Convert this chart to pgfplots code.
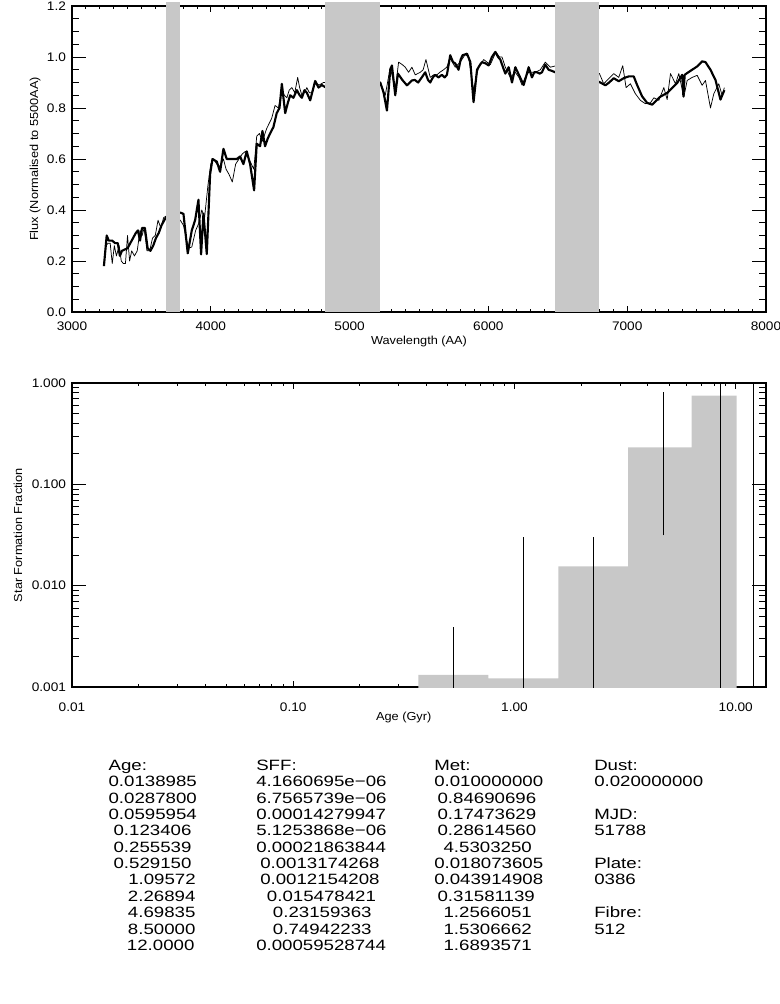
\documentclass[border=0pt]{standalone}
\usepackage{pgfplots}
\pgfplotsset{compat=1.18}
\usepackage{pgfplotstable}
\usepackage{fontspec}
\setmainfont[FakeStretch=1.1]{Liberation Sans}
\newfontfamily\tabfont[FakeStretch=1.25]{Liberation Sans}
\definecolor{band}{RGB}{200,200,200}

\pgfplotstableread{
x y
3230 0.18
3250 0.30
3265 0.28
3290 0.28
3310 0.27
3330 0.27
3345 0.22
3360 0.24
3380 0.245
3400 0.25
3420 0.27
3440 0.29
3460 0.31
3475 0.32
3490 0.28
3505 0.33
3525 0.33
3545 0.25
3565 0.24
3585 0.26
3605 0.29
3625 0.31
3645 0.34
3665 0.36
3690 0.38
3780 0.39
3803 0.385
3834 0.23
3863 0.32
3887 0.36
3911 0.44
3930 0.226
3947 0.386
3971 0.227
3995 0.54
4012 0.60
4043 0.59
4067 0.55
4091 0.64
4115 0.60
4140 0.60
4163 0.60
4187 0.60
4211 0.61
4235 0.58
4259 0.63
4283 0.58
4312 0.477
4331 0.66
4355 0.65
4372 0.71
4391 0.65
4410 0.68
4427 0.70
4451 0.725
4475 0.78
4495 0.80
4512 0.895
4536 0.78
4555 0.82
4572 0.85
4595 0.84
4620 0.87
4640 0.85
4656 0.84
4675 0.87
4692 0.86
4716 0.83
4735 0.87
4752 0.906
4776 0.88
4800 0.89
4830 0.88
5221 0.90
5245 0.86
5269 0.79
5293 0.95
5305 0.967
5329 0.85
5348 0.935
5380 0.91
5413 0.889
5449 0.908
5470 0.91
5494 0.90
5520 0.92
5545 0.94
5565 0.91
5581 0.90
5600 0.92
5617 0.93
5640 0.92
5665 0.93
5685 0.92
5701 0.93
5725 1.007
5745 0.98
5761 0.975
5785 0.95
5800 0.99
5814 1.007
5846 1.013
5870 0.98
5893 0.823
5918 0.95
5940 0.97
5954 0.98
5980 0.975
6002 0.967
6025 1.0
6050 1.02
6070 1.0
6086 0.99
6105 0.96
6122 0.935
6146 0.96
6170 0.90
6194 0.96
6220 0.93
6254 0.89
6275 0.93
6290 0.96
6314 0.92
6330 0.94
6350 0.94
6370 0.935
6386 0.94
6410 0.97
6434 0.95
6460 0.945
6482 0.94
6800 0.902
6843 0.889
6870 0.90
6903 0.917
6939 0.905
6975 0.917
7011 0.924
7047 0.924
7071 0.891
7107 0.846
7144 0.82
7180 0.813
7216 0.833
7240 0.845
7264 0.852
7290 0.86
7312 0.872
7336 0.885
7360 0.898
7396 0.93
7405 0.845
7414 0.93
7432 0.937
7468 0.95
7504 0.963
7540 0.983
7564 0.98
7600 0.95
7636 0.91
7672 0.833
7700 0.87
}\thickspec

\pgfplotstableread{
x y
3230 0.19
3245 0.26
3260 0.27
3275 0.27
3290 0.19
3305 0.26
3320 0.22
3340 0.26
3355 0.20
3370 0.19
3385 0.19
3400 0.30
3415 0.20
3430 0.24
3450 0.22
3470 0.24
3490 0.32
3505 0.30
3520 0.33
3540 0.24
3560 0.24
3580 0.29
3600 0.30
3620 0.36
3640 0.33
3660 0.37
3690 0.38
3780 0.36
3803 0.34
3839 0.25
3863 0.255
3891 0.32
3915 0.35
3935 0.40
3955 0.37
3980 0.50
4000 0.58
4020 0.60
4043 0.58
4067 0.57
4091 0.60
4110 0.56
4131 0.54
4155 0.51
4179 0.58
4203 0.60
4227 0.62
4250 0.63
4275 0.60
4310 0.56
4331 0.69
4350 0.70
4372 0.67
4403 0.72
4439 0.76
4463 0.81
4487 0.80
4512 0.87
4530 0.85
4548 0.84
4565 0.87
4584 0.88
4605 0.86
4626 0.92
4640 0.88
4656 0.85
4675 0.86
4692 0.88
4710 0.86
4728 0.86
4752 0.90
4780 0.89
4812 0.90
4830 0.90
5221 0.90
5257 0.85
5293 0.96
5329 0.87
5353 0.98
5380 0.97
5401 0.96
5425 0.94
5449 0.96
5473 0.93
5509 0.94
5530 0.95
5550 0.99
5581 0.92
5605 0.93
5629 0.93
5650 0.94
5677 0.95
5700 0.96
5725 0.995
5761 0.96
5797 0.98
5833 1.01
5857 1.0
5893 0.87
5929 0.96
5966 0.99
5990 0.98
6014 0.97
6054 1.02
6080 1.0
6098 1.0
6122 0.96
6158 0.92
6194 0.94
6220 0.92
6242 0.89
6265 0.92
6290 0.94
6338 0.94
6374 0.95
6410 0.98
6446 0.96
6482 0.965
6800 0.935
6831 0.895
6867 0.915
6903 0.935
6939 0.92
6968 0.966
6992 0.88
7023 0.895
7059 0.856
7095 0.83
7131 0.817
7167 0.82
7192 0.84
7228 0.83
7264 0.88
7288 0.833
7312 0.935
7348 0.895
7372 0.935
7408 0.843
7432 0.908
7468 0.92
7504 0.928
7540 0.889
7564 0.908
7600 0.80
7624 0.856
7660 0.895
7684 0.849
7700 0.88
}\thinspec

\newcommand{\T}[3]{\node[anchor=base west, inner sep=0pt, font=\tabfont\fontsize{11.2}{12}\selectfont] at ({#1*0.75pt},{-#2*0.75pt}) {#3};}

\begin{document}
\begin{tikzpicture}
\path[use as bounding box] (0,0) rectangle (585pt,-753pt);

% ---------------- top panel: spectrum ----------------
\begin{axis}[
  at={(54pt,-234pt)}, anchor=south west,
  scale only axis, width=520.5pt, height=229.5pt,
  xmin=3000, xmax=8000, ymin=0, ymax=1.2,
  xtick={3000,4000,5000,6000,7000,8000},
  xticklabels={3000,4000,5000,6000,7000,8000},
  ytick={0,0.2,0.4,0.6,0.8,1.0,1.2},
  yticklabels={0.0,0.2,0.4,0.6,0.8,1.0,1.2},
  minor x tick num=9, minor y tick num=3,
  tick align=inside,
  xtick style={/pgfplots/major tick length=4.5pt,/pgfplots/minor tick length=2.5pt},
  ytick style={/pgfplots/major tick length=10.5pt,/pgfplots/minor tick length=5.25pt},
  tick style={black, line width=0.6pt},
  axis line style={line width=0.9pt},
  ticklabel style={font=\fontsize{9.3}{10}\selectfont},
  xticklabel style={yshift=-4pt},
  yticklabel style={xshift=-1pt},
  /pgf/number format/assume math mode=true,
  xlabel={Wavelength (AA)}, ylabel={Flux (Normalised to 5500AA)},
  label style={font=\fontsize{8.7}{10}\selectfont},
  xlabel style={at={(axis description cs:0.5,-0.095)}, anchor=center},
  ylabel style={at={(axis description cs:-0.0533,0.5)}, anchor=center},
  clip=false
]
\addplot[black, line width=0.55pt, line join=round] table[x=x,y=y] {\thinspec};
\addplot[black, line width=1.6pt, line join=round] table[x=x,y=y] {\thickspec};
\addplot[fill=band, draw=none] coordinates {(3680,0) (3680,1.216) (3780,1.216) (3780,0)} -- cycle;
\addplot[fill=band, draw=none] coordinates {(4820,0) (4820,1.216) (5222,1.216) (5222,0)} -- cycle;
\addplot[fill=band, draw=none] coordinates {(6482,0) (6482,1.216) (6800,1.216) (6800,0)} -- cycle;
\end{axis}

% ---------------- bottom panel: star formation fraction ----------------
\begin{axis}[
  at={(54pt,-515.25pt)}, anchor=south west,
  scale only axis, width=520.5pt, height=228pt,
  xmode=log, ymode=log,
  xmin=0.01, xmax=13.7, ymin=0.001, ymax=1,
  xtick={0.01,0.1,1,10}, xticklabels={0.01,0.10,1.00,10.00},
  minor xtick={0.02,0.03,0.04,0.05,0.06,0.07,0.08,0.09,0.2,0.3,0.4,0.5,0.6,0.7,0.8,0.9,2,3,4,5,6,7,8,9},
  ytick={0.001,0.01,0.1,1}, yticklabels={0.001,0.010,0.100,1.000},
  minor ytick={0.002,0.003,0.004,0.005,0.006,0.007,0.008,0.009,0.02,0.03,0.04,0.05,0.06,0.07,0.08,0.09,0.2,0.3,0.4,0.5,0.6,0.7,0.8,0.9},
  tick align=inside,
  xtick style={/pgfplots/major tick length=4.5pt,/pgfplots/minor tick length=2.5pt},
  ytick style={/pgfplots/major tick length=10.5pt,/pgfplots/minor tick length=5.25pt},
  tick style={black, line width=0.6pt},
  axis line style={line width=0.9pt},
  ticklabel style={font=\fontsize{9.3}{10}\selectfont},
  xticklabel style={yshift=-8pt},
  yticklabel style={xshift=-1pt},
  /pgf/number format/assume math mode=true,
  xlabel={Age (Gyr)}, ylabel={Star Formation Fraction},
  label style={font=\fontsize{8.7}{10}\selectfont},
  xlabel style={at={(axis description cs:0.478,-0.099)}, anchor=center},
  ylabel style={at={(axis description cs:-0.0778,0.5)}, anchor=center}
]
\addplot[fill=band, draw=none] coordinates {
 (0.00966,1e-7) (0.00966,4.1660695e-6) (0.0200,4.1660695e-6) (0.0200,6.7565739e-6)
 (0.0414,6.7565739e-6) (0.0414,1.4279947e-4) (0.0858,1.4279947e-4) (0.0858,5.1253868e-6)
 (0.1776,5.1253868e-6) (0.1776,2.1863844e-4) (0.3677,2.1863844e-4) (0.3677,0.0013174268)
 (0.7615,0.0013174268) (0.7615,0.0012154208) (1.577,0.0012154208) (1.577,0.015478421)
 (3.265,0.015478421) (3.265,0.23159363) (6.319,0.23159363) (6.319,0.74942233)
 (10.10,0.74942233) (10.10,5.9528744e-4) (14.26,5.9528744e-4) (14.26,1e-7)} -- cycle;
\addplot[black, line width=0.8pt] coordinates {(0.52915,1e-5) (0.52915,0.0039)};
\addplot[black, line width=0.8pt] coordinates {(1.09572,1e-5) (1.09572,0.0299)};
\addplot[black, line width=0.8pt] coordinates {(2.26894,1e-5) (2.26894,0.0305)};
\addplot[black, line width=0.8pt] coordinates {(4.69835,0.0313) (4.69835,0.815)};
\addplot[black, line width=0.8pt] coordinates {(8.5,1e-5) (8.5,10)};
\addplot[black, line width=0.8pt] coordinates {(12.0,1e-5) (12.0,10)};
\end{axis}

% ---------------- text table ----------------
\T{108.3}{770.4}{Age:}
\T{108.3}{786.7}{0.0138985}
\T{108.3}{803.1}{0.0287800}
\T{108.3}{819.5}{0.0595954}
\T{113.3}{835.8}{0.123406}
\T{113.3}{852.2}{0.255539}
\T{113.3}{868.6}{0.529150}
\T{128.0}{884.9}{1.09572}
\T{127.7}{901.3}{2.26894}
\T{127.7}{917.6}{4.69835}
\T{127.7}{934.0}{8.50000}
\T{126.7}{950.4}{12.0000}

\T{256}{770.4}{SFF:}
\T{256}{786.7}{4.1660695e−06}
\T{256}{803.1}{6.7565739e−06}
\T{256}{819.5}{0.00014279947}
\T{256}{835.8}{5.1253868e−06}
\T{256}{852.2}{0.00021863844}
\T{260}{868.6}{0.0013174268}
\T{260}{884.9}{0.0012154208}
\T{266.7}{901.3}{0.015478421}
\T{272.7}{917.6}{0.23159363}
\T{272.7}{934.0}{0.74942233}
\T{256}{950.4}{0.00059528744}

\T{434}{770.4}{Met:}
\T{434}{786.7}{0.010000000}
\T{437.3}{803.1}{0.84690696}
\T{437.3}{819.5}{0.17473629}
\T{437.3}{835.8}{0.28614560}
\T{443.3}{852.2}{4.5303250}
\T{434}{868.6}{0.018073605}
\T{434}{884.9}{0.043914908}
\T{437.3}{901.3}{0.31581139}
\T{443.3}{917.6}{1.2566051}
\T{443.3}{934.0}{1.5306662}
\T{443.3}{950.4}{1.6893571}

\T{594}{770.4}{Dust:}
\T{594}{786.7}{0.020000000}
\T{594}{819.5}{MJD:}
\T{594}{835.8}{51788}
\T{594}{868.6}{Plate:}
\T{594}{884.9}{0386}
\T{594}{917.6}{Fibre:}
\T{594}{934.0}{512}
\end{tikzpicture}
\end{document}
